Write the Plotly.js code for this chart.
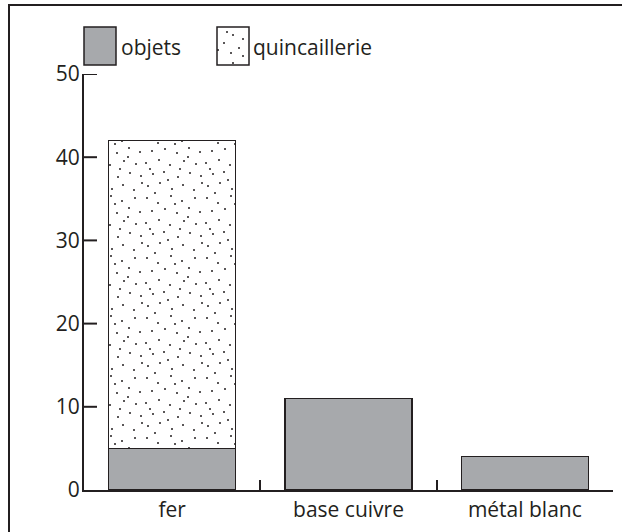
<!DOCTYPE html>
<html>
<head>
<meta charset="utf-8">
<script src="https://cdn.plot.ly/plotly-3.0.1.min.js"></script>
<style>html,body{margin:0;padding:0;background:#fff;}#chart{width:622px;height:532px;}</style>
</head>
<body>
<div id="chart"></div>
<script>
const categories = ['fer', 'base cuivre', 'métal blanc'];
const objets = [5, 11, 4];
const quincaillerie = [37, null, null];
const seriesNames = ['objets', 'quincaillerie'];
const yTicks = [0, 10, 20, 30, 40, 50];

const ink = '#231f20';
const grey = '#a7a9ac';
const font = {family: '"Open Sans", "DejaVu Sans", sans-serif', size: 21, color: ink};

const W = 622, H = 532;
const M = {l: 84, r: 9, t: 74, b: 42};
const pw = W - M.l - M.r, ph = H - M.t - M.b;
const px = x => (x - M.l) / pw;
const py = y => (H - M.b - y) / ph;

const traces = [
  {type: 'bar', name: seriesNames[0], x: categories, y: objets, width: 0.72,
   marker: {color: grey, line: {color: ink, width: 1.5}}, showlegend: false, hoverinfo: 'x+y+name'},
  {type: 'bar', name: seriesNames[1], x: categories, y: quincaillerie, width: 0.72,
   marker: {color: 'white', line: {color: ink, width: 1.5},
     pattern: {shape: '.', bgcolor: 'white', fgcolor: ink, size: 10, solidity: 0.04, fillmode: 'replace'}},
   showlegend: false, hoverinfo: 'x+y+name'}
];

// stipple tile (texture only, not data)
const stipple = [[3,4],[14,9],[27,2],[38,7],[51,4],[8,17],[21,15],[33,19],[45,14],[56,18],
  [2,29],[15,26],[26,31],[40,27],[52,30],[9,40],[20,38],[34,43],[46,39],[57,42],
  [4,52],[16,49],[28,55],[39,51],[50,56],[11,59],[24,46],[44,23],[31,10],[58,49],[6,35],[36,35]];

const solidSwatch = 'data:image/svg+xml;utf8,' + encodeURIComponent(
  '<svg xmlns="http://www.w3.org/2000/svg" width="34" height="40"><rect x="1" y="1" width="32" height="38" fill="' + grey + '" stroke="' + ink + '" stroke-width="1.5"/></svg>');
const dotSwatch = 'data:image/svg+xml;utf8,' + encodeURIComponent(
  '<svg xmlns="http://www.w3.org/2000/svg" width="34" height="40"><rect x="1" y="1" width="32" height="38" fill="white" stroke="' + ink + '" stroke-width="1.5"/>' +
  '<g fill="' + ink + '"><circle cx="11" cy="6" r="1"/><circle cx="17" cy="9" r="1"/><circle cx="27" cy="13" r="1"/><circle cx="8" cy="17" r="1"/><circle cx="23" cy="22" r="1"/><circle cx="2" cy="24" r="1"/><circle cx="15" cy="27" r="1"/><circle cx="27" cy="30" r="1"/><circle cx="17" cy="37" r="1"/></g></svg>');

// y tick marks pointing into the plot (drawn at the tick values through the y scale)
const tickShapes = yTicks.filter(v => v > 0).map(v => ({
  type: 'line', xref: 'paper', yref: 'y', x0: 0, x1: 13 / pw, y0: v, y1: v,
  line: {color: ink, width: 2}, layer: 'above'
}));

const layout = {
  width: W, height: H,
  margin: M,
  paper_bgcolor: 'white', plot_bgcolor: 'white',
  font: font,
  barmode: 'stack',
  showlegend: false,
  xaxis: {
    type: 'category', range: [-0.5, 2.5], fixedrange: true,
    showline: true, linecolor: ink, linewidth: 2,
    ticks: 'inside', tickson: 'boundaries', ticklen: 10, tickwidth: 2, tickcolor: ink,
    showgrid: false, zeroline: false, tickfont: font
  },
  yaxis: {
    range: [0, 50], tickmode: 'array', tickvals: yTicks, fixedrange: true,
    showline: true, linecolor: ink, linewidth: 2,
    ticks: '', showgrid: false, zeroline: false, tickfont: font, ticklabelstandoff: -2
  },
  images: [
    {source: solidSwatch, xref: 'paper', yref: 'paper', x: px(83), y: py(26), sizex: 34 / pw, sizey: 40 / ph,
     xanchor: 'left', yanchor: 'top', sizing: 'stretch', layer: 'above'},
    {source: dotSwatch, xref: 'paper', yref: 'paper', x: px(216), y: py(26), sizex: 34 / pw, sizey: 40 / ph,
     xanchor: 'left', yanchor: 'top', sizing: 'stretch', layer: 'above'}
  ],
  annotations: [
    {text: seriesNames[0], xref: 'paper', yref: 'paper', x: px(119), y: py(47), xanchor: 'left', yanchor: 'middle', showarrow: false, font: font},
    {text: seriesNames[1], xref: 'paper', yref: 'paper', x: px(251), y: py(47), xanchor: 'left', yanchor: 'middle', showarrow: false, font: font}
  ],
  shapes: [
    {type: 'rect', xref: 'paper', yref: 'paper', x0: px(9), x1: px(640), y0: py(560), y1: py(5),
     line: {color: ink, width: 2}, fillcolor: 'rgba(0,0,0,0)', layer: 'above'}
  ].concat(tickShapes)
};

Plotly.newPlot('chart', traces, layout, {staticPlot: true, displayModeBar: false}).then(gd => {
  // swap Plotly's regular dot grid for an irregular stipple tile
  gd.querySelectorAll('defs pattern').forEach(p => {
    const ns = 'http://www.w3.org/2000/svg';
    while (p.firstChild) p.removeChild(p.firstChild);
    p.setAttribute('width', 60); p.setAttribute('height', 60);
    p.setAttribute('patternUnits', 'userSpaceOnUse');
    p.removeAttribute('patternTransform');
    const bg = document.createElementNS(ns, 'rect');
    bg.setAttribute('width', 60); bg.setAttribute('height', 60); bg.setAttribute('fill', 'white');
    p.appendChild(bg);
    stipple.forEach(([cx, cy]) => {
      const c = document.createElementNS(ns, 'circle');
      c.setAttribute('cx', cx); c.setAttribute('cy', cy); c.setAttribute('r', 1);
      c.setAttribute('fill', ink);
      p.appendChild(c);
    });
  });
});
</script>
</body>
</html>
